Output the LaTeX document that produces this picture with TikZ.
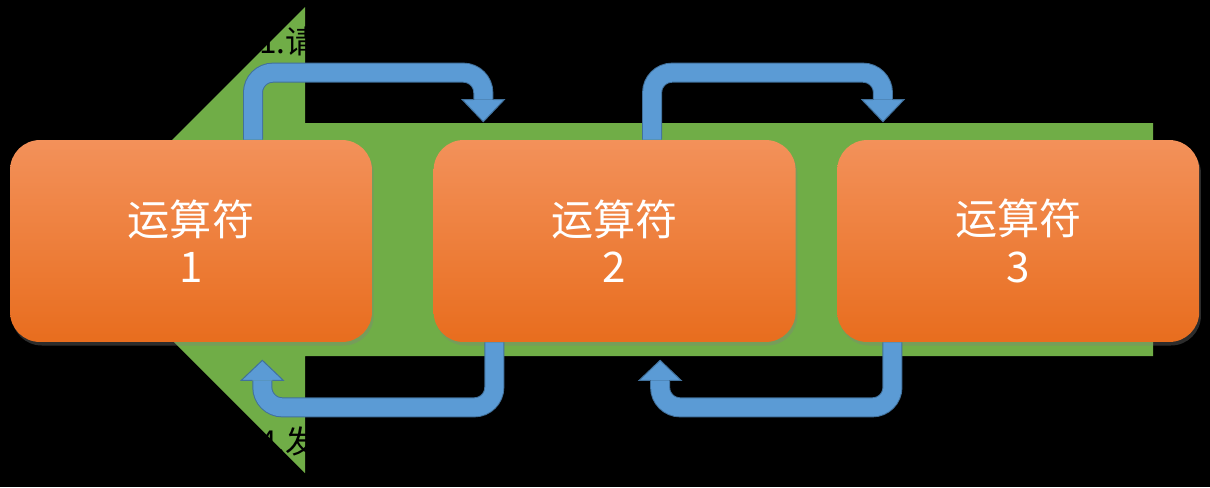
\documentclass[tikz,border=0pt]{standalone}
\usepackage{fontspec}
\usepackage{xcolor}
\usepackage{tikz}
\usetikzlibrary{arrows.meta,positioning,calc,shadows}
\newfontfamily\cjkfont{Noto Sans CJK SC}
\definecolor{opgreen}{HTML}{70AD47}
\definecolor{optop}{HTML}{F3915A}
\definecolor{opmid}{HTML}{F27E35}
\definecolor{opbot}{HTML}{E86D1E}
\definecolor{flowfill}{HTML}{5B9BD5}
\definecolor{flowline}{HTML}{41719C}

\begin{document}
\begin{tikzpicture}[x=0.02cm,y=-0.02cm,
    opbox/.style={rounded corners=0.6cm,minimum width=7.24cm,minimum height=4.04cm,inner sep=0pt,
      top color=optop,middle color=opmid,bottom color=opbot,
      drop shadow={shadow xshift=1pt,shadow yshift=-2pt,opacity=0.35},
      align=center,text=white,font=\cjkfont\fontsize{24}{27}\selectfont},
    flow/.style={draw=flowline,line width=0.02cm,double=flowfill,double distance=0.36cm,rounded corners=0.4cm},
    headline/.style={draw=flowline,line width=0.02cm,line join=miter},
    lbl/.style={inner sep=0pt,anchor=west,text=black,font=\cjkfont\fontsize{18}{20}\selectfont}]
  % canvas
  \fill[black] (0,0) rectangle (1210,487);
  \useasboundingbox (0,0) rectangle (1210,487);
  % big green arrow behind the boxes
  \fill[opgreen] (305,123) -- (305,7) -- (72,240) -- (305,473) -- (305,356)
    -- (1153,356) -- (1153,123) -- cycle;
  \node[lbl] (req) at (259,41) {1.请};
  \node[lbl] (snd) at (259,441) {4.发};
  % operators
  \node[opbox] (op1) at (191,241) {运算符\\1};
  \node[opbox,right=1.22cm of op1] (op2) {运算符\\2};
  \node[opbox,right=0.82cm of op2] (op3) {运算符\\3};
  % requests on top
  \coordinate (t1s) at ($(op1.north)+(62,0)$);
  \coordinate (t1e) at ($(op2.north west)+(50,-18)$);
  \draw[flow] (t1s) |- ($(t1e)+(0,-49)$) -- ($(t1e)+(0,-22)$);
  \fill[flowfill] (t1e) -- ++(-21,-22) -- ++(42,0) -- cycle;
  \draw[headline] ($(t1e)+(-10,-22)$) -- ++(-11,0) -- (t1e) -- ++(21,-22) -- ++(-11,0);
  \coordinate (t2s) at ($(op2.north)+(37.5,0)$);
  \coordinate (t2e) at ($(op3.north west)+(46,-18)$);
  \draw[flow] (t2s) |- ($(t2e)+(0,-49)$) -- ($(t2e)+(0,-22)$);
  \fill[flowfill] (t2e) -- ++(-21,-22) -- ++(42,0) -- cycle;
  \draw[headline] ($(t2e)+(-10,-22)$) -- ++(-11,0) -- (t2e) -- ++(21,-22) -- ++(-11,0);
  % results going back
  \coordinate (b1s) at ($(op2.south west)+(61,0)$);
  \coordinate (b1e) at ($(op1.south east)+(-110,18)$);
  \draw[flow] (b1s) |- ($(b1e)+(0,47)$) -- ($(b1e)+(0,20)$);
  \fill[flowfill] (b1e) -- ++(-21,20) -- ++(42,0) -- cycle;
  \draw[headline] ($(b1e)+(-10,20)$) -- ++(-11,0) -- (b1e) -- ++(21,20) -- ++(-11,0);
  \coordinate (b2s) at ($(op3.south west)+(55.5,0)$);
  \coordinate (b2e) at ($(op2.south)+(45.5,18)$);
  \draw[flow] (b2s) |- ($(b2e)+(0,47)$) -- ($(b2e)+(0,20)$);
  \fill[flowfill] (b2e) -- ++(-21,20) -- ++(42,0) -- cycle;
  \draw[headline] ($(b2e)+(-10,20)$) -- ++(-11,0) -- (b2e) -- ++(21,20) -- ++(-11,0);
\end{tikzpicture}
\end{document}
